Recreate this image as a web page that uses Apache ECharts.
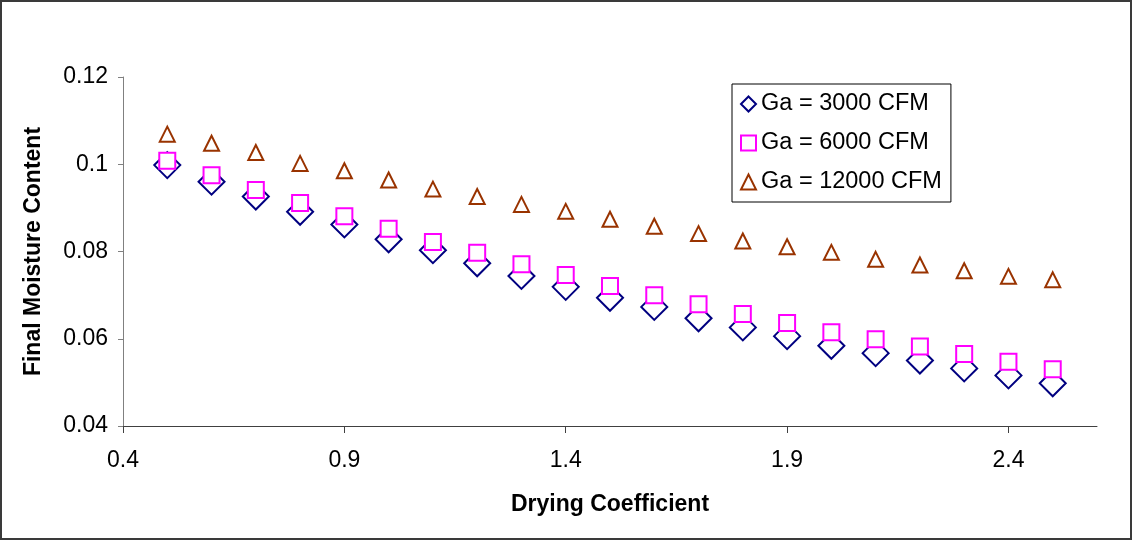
<!DOCTYPE html>
<html>
<head>
<meta charset="utf-8">
<script src="https://cdn.jsdelivr.net/npm/echarts@6/dist/echarts.min.js"></script>
<style>
html,body{margin:0;padding:0;background:#fff;}
#chart{width:1133px;height:542px;}
</style>
</head>
<body>
<div id="chart"></div>
<script>
const xValues = [0.5,0.6,0.7,0.8,0.9,1.0,1.1,1.2,1.3,1.4,1.5,1.6,1.7,1.8,1.9,2.0,2.1,2.2,2.3,2.4,2.5];
const ga3000 = [0.0998,0.0960,0.0926,0.0891,0.0862,0.0828,0.0803,0.0773,0.0744,0.0719,0.0694,0.0673,0.0647,0.0626,0.0606,0.0584,0.0567,0.0550,0.0532,0.0516,0.0498];
const ga6000 = [0.1008,0.0975,0.0941,0.0911,0.0881,0.0852,0.0822,0.0797,0.0771,0.0746,0.0721,0.0700,0.0679,0.0657,0.0636,0.0615,0.0599,0.0582,0.0565,0.0547,0.0530];
const ga12000 = [0.1069,0.1048,0.1027,0.1002,0.0985,0.0964,0.0943,0.0926,0.0908,0.0892,0.0874,0.0858,0.0841,0.0824,0.0811,0.0798,0.0782,0.0769,0.0756,0.0743,0.0735];
const seriesNames = ['Ga = 3000 CFM','Ga = 6000 CFM','Ga = 12000 CFM'];
const xTicks = [0.4,0.9,1.4,1.9,2.4];
const yTicks = [0.04,0.06,0.08,0.1,0.12];

const FONT = "'Liberation Sans', Arial, sans-serif";
function pairs(ys){ return xValues.map((x,i)=>[x, ys[i]]); }

const chart = echarts.init(document.getElementById('chart'), null, {renderer:'canvas'});
chart.setOption({
  animation: false,
  backgroundColor: '#fff',
  textStyle: {fontFamily: FONT},
  graphic: [{
    type: 'rect', silent: true, z: 100,
    shape: {x: 1, y: 1, width: 1130, height: 538},
    style: {fill: 'none', stroke: '#3a3a3a', lineWidth: 2}
  }],
  grid: {left: 123, top: 77, right: 36, bottom: 116, containLabel: false},
  legend: {
    orient: 'vertical',
    left: 732, top: 84,
    padding: [8, 9, 8, 8],
    itemGap: 15,
    itemWidth: 15, itemHeight: 15,
    borderColor: '#000', borderWidth: 1,
    backgroundColor: '#fff',
    textStyle: {fontFamily: FONT, fontSize: 23.5, color: '#000', lineHeight: 23},
    data: seriesNames
  },
  xAxis: {
    type: 'value',
    min: 0.4, max: 2.6,
    name: 'Drying Coefficient',
    nameLocation: 'middle',
    nameGap: 67,
    nameTextStyle: {fontFamily: FONT, fontSize: 23, fontWeight: 'bold', color: '#000'},
    axisLine: {show: true, onZero: false, lineStyle: {color: '#404040', width: 1}},
    axisTick: {show: true, length: 7, customValues: xTicks, lineStyle: {color: '#404040'}},
    axisLabel: {customValues: xTicks, margin: 23, fontSize: 23, color: '#000', fontFamily: FONT,
      formatter: v => String(v)},
    splitLine: {show: false}
  },
  yAxis: {
    type: 'value',
    min: 0.04, max: 0.12, interval: 0.02,
    name: 'Final Moisture Content',
    nameLocation: 'middle',
    nameGap: 78,
    nameRotate: 90,
    nameTextStyle: {fontFamily: FONT, fontSize: 23, fontWeight: 'bold', color: '#000'},
    axisLine: {show: true, lineStyle: {color: '#808080', width: 1}},
    axisTick: {show: true, length: 5, lineStyle: {color: '#808080'}},
    axisLabel: {margin: 15, fontSize: 23, color: '#000', fontFamily: FONT,
      formatter: v => String(+v.toFixed(2))},
    splitLine: {show: false}
  },
  series: [
    {
      name: seriesNames[0], type: 'scatter', symbol: 'diamond', symbolSize: 26,
      itemStyle: {color: '#fff', borderColor: '#000080', borderWidth: 2, opacity: 1},
      data: pairs(ga3000), z: 2
    },
    {
      name: seriesNames[1], type: 'scatter', symbol: 'rect', symbolSize: 16,
      itemStyle: {color: '#fff', borderColor: '#FF00FF', borderWidth: 2, opacity: 1},
      data: pairs(ga6000), z: 3
    },
    {
      name: seriesNames[2], type: 'scatter', symbol: 'triangle', symbolSize: 15,
      itemStyle: {color: '#fff', borderColor: '#993300', borderWidth: 2, opacity: 1},
      data: pairs(ga12000), z: 4
    }
  ]
});
</script>
</body>
</html>
